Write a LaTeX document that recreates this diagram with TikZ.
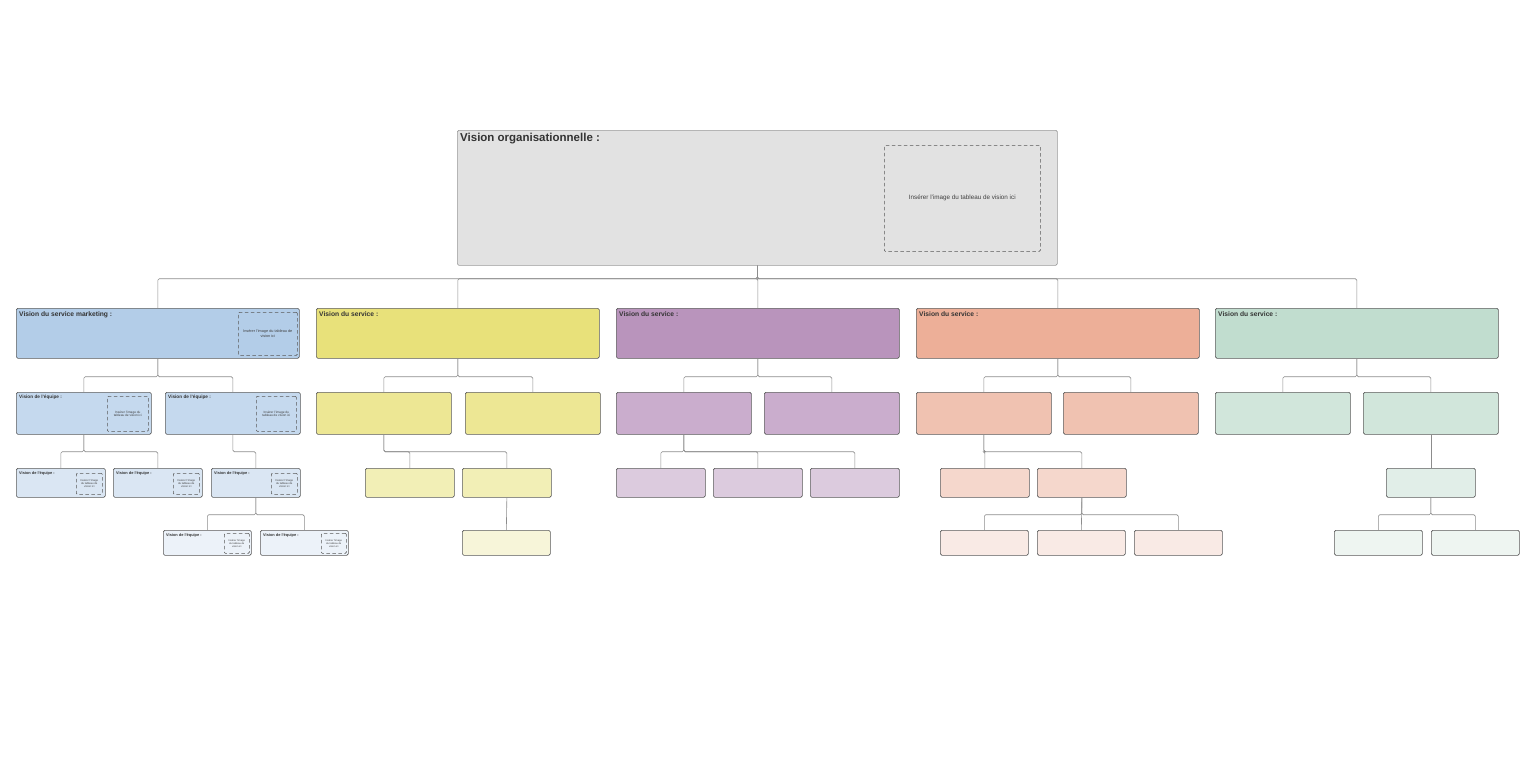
\documentclass[tikz,border=0pt]{standalone}
\usepackage{fontspec}
\setmainfont{Liberation Sans}
\usepackage{tikz}

\definecolor{rootfill}{HTML}{E2E2E2}
\definecolor{blueA}{HTML}{B3CDE8}
\definecolor{blueB}{HTML}{C5D9EE}
\definecolor{blueC}{HTML}{DAE6F3}
\definecolor{blueD}{HTML}{ECF2F9}
\definecolor{yellowA}{HTML}{E8E17A}
\definecolor{yellowB}{HTML}{EDE794}
\definecolor{yellowC}{HTML}{F2EFB6}
\definecolor{yellowD}{HTML}{F7F5D9}
\definecolor{purpleA}{HTML}{B994BC}
\definecolor{purpleB}{HTML}{CAADCD}
\definecolor{purpleC}{HTML}{DCCBDE}
\definecolor{orangeA}{HTML}{EDAF98}
\definecolor{orangeB}{HTML}{F0C2B1}
\definecolor{orangeC}{HTML}{F5D7CC}
\definecolor{orangeD}{HTML}{F9EAE5}
\definecolor{greenA}{HTML}{C1DDCF}
\definecolor{greenB}{HTML}{D1E6DB}
\definecolor{greenC}{HTML}{E1EEE8}
\definecolor{greenD}{HTML}{EEF5F1}

\tikzset{
  box/.style={draw=black!65, rounded corners=1.5pt, line width=0.7pt, anchor=north west, inner sep=0pt},
  imgbox/.style={draw=black!65, line width=0.6pt, dash pattern=on 3.5pt off 2.5pt, rounded corners=1pt, anchor=north west, inner sep=0pt, align=center, text=black!75},
  head/.style={anchor=north west, inner sep=0pt, font=\bfseries\fontsize{6.7}{8}\selectfont, text=black!80},
  conn/.style={draw=black!45, line width=0.6pt, rounded corners=1.5pt},
  deptbox/.style={box, minimum width=283pt, minimum height=50pt},
  teambox/.style={box, minimum width=135pt, minimum height=42pt},
  subbox/.style={box, minimum width=89pt, minimum height=29pt},
  leafbox/.style={box, minimum width=88pt, minimum height=25pt},
}

\begin{document}
\begin{tikzpicture}[x=1pt,y=-1pt]
\useasboundingbox (0,0) rectangle (1526,776);

\node[box, fill=rootfill, draw=black!40, minimum width=600pt, minimum height=135pt] (root) at (457,130) {};
\node[head, font=\bfseries\fontsize{11.5}{13}\selectfont] (roottxt) at (460,133) {Vision organisationnelle :};
\node[imgbox, minimum width=156pt, minimum height=106pt, font=\fontsize{6.3}{7.5}\selectfont] (rootimg) at (884,145) {Insérer l'image du tableau de vision ici};

\node[deptbox, fill=blueA] (mkt) at (16,308) {};
\node[head] (mkttxt) at (19,311) {Vision du service marketing :};
\node[imgbox, minimum width=59pt, minimum height=43pt, font=\fontsize{3.8}{4.5}\selectfont] (mktimg) at (238,312) {Insérer l'image du tableau de\\vision ici};
\node[deptbox, fill=yellowA] (ylw) at (316,308) {};
\node[head] (ylwtxt) at (319,311) {Vision du service :};
\node[deptbox, fill=purpleA] (prp) at (616,308) {};
\node[head] (prptxt) at (619,311) {Vision du service :};
\node[deptbox, fill=orangeA] (org) at (916,308) {};
\node[head] (orgtxt) at (919,311) {Vision du service :};
\node[deptbox, fill=greenA] (grn) at (1215,308) {};
\node[head] (grntxt) at (1218,311) {Vision du service :};

\node[teambox, fill=blueB] (mA) at (16,392) {};
\node[head, font=\bfseries\fontsize{4.7}{5.5}\selectfont] (mAtxt) at (19,395) {Vision de l'équipe :};
\node[imgbox, minimum width=41pt, minimum height=35pt, font=\fontsize{3.2}{3.9}\selectfont] (mAimg) at (107,396) {Insérer l'image du\\tableau de vision ici};
\node[teambox, fill=blueB] (mB) at (165,392) {};
\node[head, font=\bfseries\fontsize{4.7}{5.5}\selectfont] (mBtxt) at (168,395) {Vision de l'équipe :};
\node[imgbox, minimum width=40pt, minimum height=35pt, font=\fontsize{3.2}{3.9}\selectfont] (mBimg) at (256,396) {Insérer l'image du\\tableau de vision ici};
\node[teambox, fill=yellowB] (yA) at (316,392) {};
\node[teambox, fill=yellowB] (yB) at (465,392) {};
\node[teambox, fill=purpleB] (pA) at (616,392) {};
\node[teambox, fill=purpleB] (pB) at (764,392) {};
\node[teambox, fill=orangeB] (oA) at (916,392) {};
\node[teambox, fill=orangeB] (oB) at (1063,392) {};
\node[teambox, fill=greenB] (gA) at (1215,392) {};
\node[teambox, fill=greenB] (gB) at (1363,392) {};

\node[subbox, fill=blueC] (mAA) at (16,468) {};
\node[head, font=\bfseries\fontsize{3.9}{4.6}\selectfont] (mAAtxt) at (19,471) {Vision de l'équipe :};
\node[imgbox, minimum width=26pt, minimum height=21pt, font=\fontsize{2.7}{3.2}\selectfont] (mAAimg) at (76,473) {Insérer l'image\\du tableau de\\vision ici};
\node[subbox, fill=blueC] (mAB) at (113,468) {};
\node[head, font=\bfseries\fontsize{3.9}{4.6}\selectfont] (mABtxt) at (116,471) {Vision de l'équipe :};
\node[imgbox, minimum width=26pt, minimum height=21pt, font=\fontsize{2.7}{3.2}\selectfont] (mABimg) at (173,473) {Insérer l'image\\du tableau de\\vision ici};
\node[subbox, fill=blueC] (mBA) at (211,468) {};
\node[head, font=\bfseries\fontsize{3.9}{4.6}\selectfont] (mBAtxt) at (214,471) {Vision de l'équipe :};
\node[imgbox, minimum width=26pt, minimum height=21pt, font=\fontsize{2.7}{3.2}\selectfont] (mBAimg) at (271,473) {Insérer l'image\\du tableau de\\vision ici};
\node[subbox, fill=yellowC] (yAA) at (365,468) {};
\node[subbox, fill=yellowC] (yAB) at (462,468) {};
\node[subbox, fill=purpleC] (pAA) at (616,468) {};
\node[subbox, fill=purpleC] (pAB) at (713,468) {};
\node[subbox, fill=purpleC] (pAC) at (810,468) {};
\node[subbox, fill=orangeC] (oAA) at (940,468) {};
\node[subbox, fill=orangeC] (oAB) at (1037,468) {};
\node[subbox, fill=greenC] (gBA) at (1386,468) {};

\node[leafbox, fill=blueD] (mBAA) at (163,530) {};
\node[head, font=\bfseries\fontsize{3.9}{4.6}\selectfont] (mBAAtxt) at (166,533) {Vision de l'équipe :};
\node[imgbox, minimum width=25pt, minimum height=20pt, font=\fontsize{2.5}{3}\selectfont] (mBAAimg) at (224,533) {Insérer l'image\\du tableau de\\vision ici};
\node[leafbox, fill=blueD] (mBAB) at (260,530) {};
\node[head, font=\bfseries\fontsize{3.9}{4.6}\selectfont] (mBABtxt) at (263,533) {Vision de l'équipe :};
\node[imgbox, minimum width=25pt, minimum height=20pt, font=\fontsize{2.5}{3}\selectfont] (mBABimg) at (321,533) {Insérer l'image\\du tableau de\\vision ici};
\node[leafbox, fill=yellowD] (yABA) at (462,530) {};
\node[leafbox, fill=orangeD] (oABA) at (940,530) {};
\node[leafbox, fill=orangeD] (oABB) at (1037,530) {};
\node[leafbox, fill=orangeD] (oABC) at (1134,530) {};
\node[leafbox, fill=greenD] (gBAA) at (1334,530) {};
\node[leafbox, fill=greenD] (gBAB) at (1431,530) {};

\draw[conn] (root.south) -- ++(0,13) -| (mkt.north);
\draw[conn] (root.south) -- ++(0,13) -| (ylw.north);
\draw[conn] (root.south) -- ++(0,13) -| (prp.north);
\draw[conn] (root.south) -- ++(0,13) -| (org.north);
\draw[conn] (root.south) -- ++(0,13) -| (grn.north);

\draw[conn] (mkt.south) -- ++(0,18) -| (mA.north);
\draw[conn] (mkt.south) -- ++(0,18) -| (mB.north);
\draw[conn] (ylw.south) -- ++(0,18) -| (yA.north);
\draw[conn] (ylw.south) -- ++(0,18) -| (yB.north);
\draw[conn] (prp.south) -- ++(0,18) -| (pA.north);
\draw[conn] (prp.south) -- ++(0,18) -| (pB.north);
\draw[conn] (org.south) -- ++(0,18) -| (oA.north);
\draw[conn] (org.south) -- ++(0,18) -| (oB.north);
\draw[conn] (grn.south) -- ++(0,18) -| (gA.north);
\draw[conn] (grn.south) -- ++(0,18) -| (gB.north);

\draw[conn] (mA.south) -- ++(0,17) -| (mAA.north);
\draw[conn] (mA.south) -- ++(0,17) -| (mAB.north);
\draw[conn] (mB.south) -- ++(0,17) -| (mBA.north);
\draw[conn] (yA.south) -- ++(0,17) -| (yAA.north);
\draw[conn] (yA.south) -- ++(0,17) -| (yAB.north);
\draw[conn] (pA.south) -- ++(0,17) -| (pAA.north);
\draw[conn] (pA.south) -- ++(0,17) -| (pAB.north);
\draw[conn] (pA.south) -- ++(0,17) -| (pAC.north);
\draw[conn] (oA.south) -- ++(0,17) -| (oAA.north);
\draw[conn] (oA.south) -- ++(0,17) -| (oAB.north);
\draw[conn] (gB.south) -- (gBA.north);

\draw[conn] (mBA.south) -- ++(0,17) -| (mBAA.north);
\draw[conn] (mBA.south) -- ++(0,17) -| (mBAB.north);
\draw[conn] (yAB.south) -- (yABA.north);
\draw[conn] (oAB.south) -- ++(0,17) -| (oABA.north);
\draw[conn] (oAB.south) -- (oABB.north);
\draw[conn] (oAB.south) -- ++(0,17) -| (oABC.north);
\draw[conn] (gBA.south) -- ++(0,17) -| (gBAA.north);
\draw[conn] (gBA.south) -- ++(0,17) -| (gBAB.north);
\end{tikzpicture}
\end{document}
